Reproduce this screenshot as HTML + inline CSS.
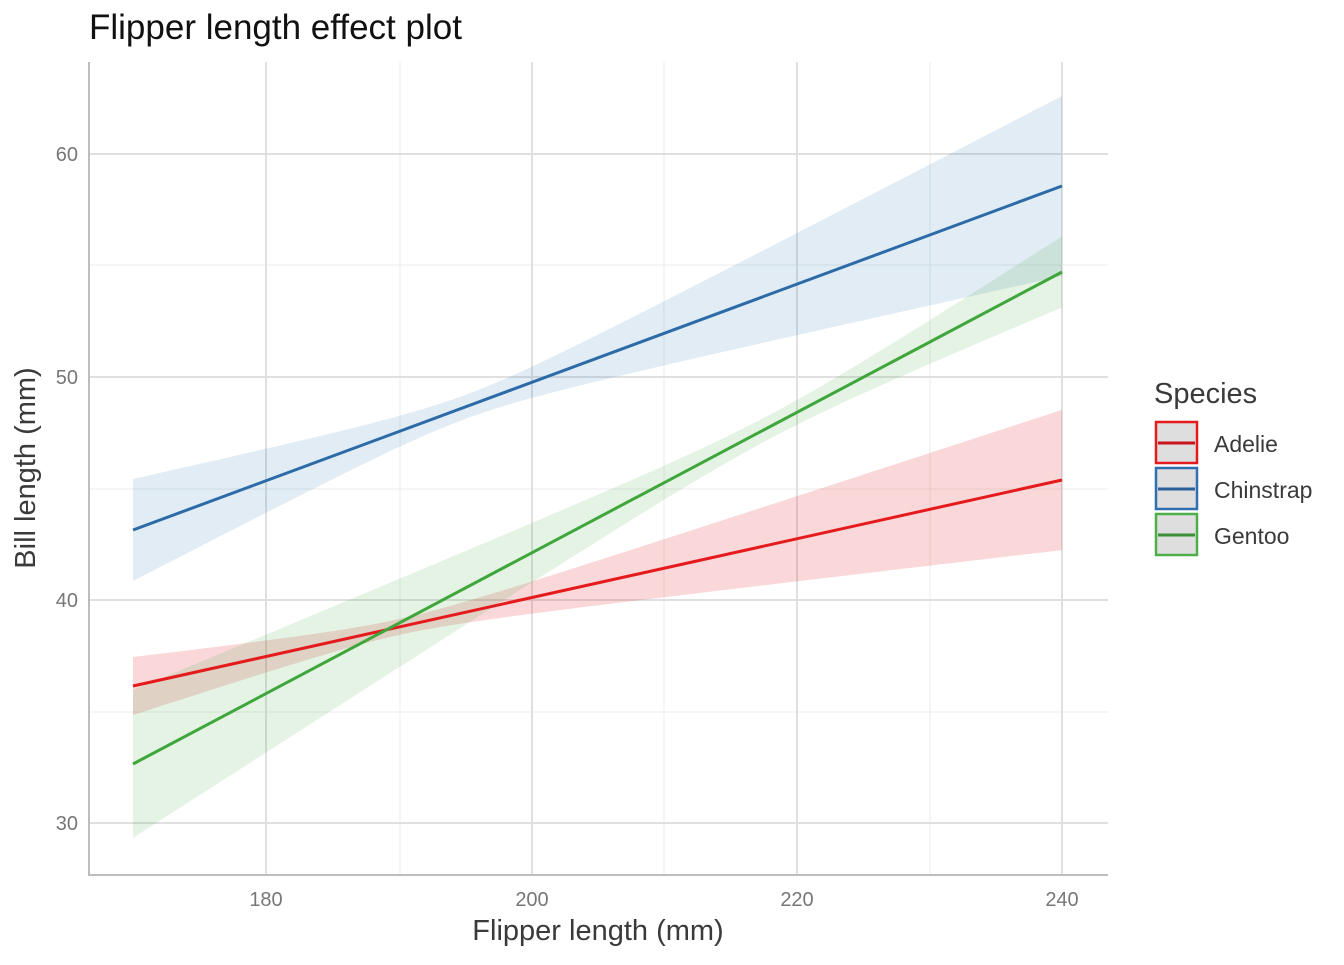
<!DOCTYPE html>
<html><head><style>body{margin:0;background:#fff}svg text{font-family:"Liberation Sans",Arial,sans-serif}</style></head>
<body>
<svg id="s" width="1344" height="960" xmlns="http://www.w3.org/2000/svg">
<rect width="1344" height="960" fill="#fff"/>
<g stroke="#ebebeb" stroke-width="1">
<line x1="400" y1="62" x2="400" y2="875"/><line x1="664" y1="62" x2="664" y2="875"/><line x1="930" y1="62" x2="930" y2="875"/>
<line x1="89" y1="712" x2="1108" y2="712"/><line x1="89" y1="489" x2="1108" y2="489"/><line x1="89" y1="265" x2="1108" y2="265"/>
</g>
<g stroke="#e0e0e0" stroke-width="2">
<line x1="266" y1="62" x2="266" y2="875"/><line x1="532" y1="62" x2="532" y2="875"/><line x1="797" y1="62" x2="797" y2="875"/><line x1="1062" y1="62" x2="1062" y2="875"/>
<line x1="89" y1="823" x2="1108" y2="823"/><line x1="89" y1="600" x2="1108" y2="600"/><line x1="89" y1="377" x2="1108" y2="377"/><line x1="89" y1="154" x2="1108" y2="154"/>
</g>
<g id="bands"></g>
<g id="lines" fill="none" stroke-width="3"></g>
<g stroke="#bdbdbd" stroke-width="2"><line x1="89" y1="62" x2="89" y2="876"/><line x1="88" y1="875" x2="1108" y2="875"/></g>
<g fill="#777" font-size="20" text-anchor="end">
<text x="78" y="830">30</text><text x="78" y="607">40</text><text x="78" y="384">50</text><text x="78" y="161">60</text></g>
<g fill="#777" font-size="20" text-anchor="middle">
<text x="266" y="906">180</text><text x="532" y="906">200</text><text x="797" y="906">220</text><text x="1062" y="906">240</text></g>
<text x="598" y="940" font-size="29" fill="#3a3a3a" text-anchor="middle">Flipper length (mm)</text>
<text transform="translate(35,468) rotate(-90)" font-size="29" fill="#3a3a3a" text-anchor="middle">Bill length (mm)</text>
<text x="89" y="39" font-size="35" fill="#111">Flipper length effect plot</text>
<text x="1154" y="403" font-size="29" fill="#3a3a3a">Species</text>
<g stroke-width="2.5" fill="#dedede">
<rect x="1156" y="422" width="41" height="41" stroke="#e41a1c"/>
<rect x="1156" y="468" width="41" height="41" stroke="#2f6fb0"/>
<rect x="1156" y="514" width="41" height="41" stroke="#4dae4a"/></g>
<g stroke-width="3">
<line x1="1158" y1="443" x2="1195" y2="443" stroke="#c8141c"/>
<line x1="1158" y1="489" x2="1195" y2="489" stroke="#2b5f98"/>
<line x1="1158" y1="535" x2="1195" y2="535" stroke="#3a8f37"/></g>
<g font-size="23" fill="#3a3a3a"><text x="1214" y="452">Adelie</text><text x="1214" y="498">Chinstrap</text><text x="1214" y="544">Gentoo</text></g>
</svg>
<script>
function X(m){return 133+(m-170)*13.271;}
var sp=[
 {c:"#e41a1c",y0:686,y1:480,x0:190,h0:8,k:1.94},
 {c:"#2c6aa8",y0:530,y1:186,x0:195,h0:12,k:3.93},
 {c:"#3fa63c",y0:764,y1:272,x0:218,h0:12,k:2.31}];
var fills=["rgba(228,26,28,0.17)","rgba(55,126,184,0.15)","rgba(77,175,74,0.15)"];
var b=document.getElementById("bands"),l=document.getElementById("lines"),ns="http://www.w3.org/2000/svg";
sp.forEach(function(s,i){
 var up=[],lo=[];
 for(var m=170;m<=240.001;m+=1){var t=(m-170)/70,c=s.y0+(s.y1-s.y0)*t,h=Math.sqrt(s.h0*s.h0+s.k*(m-s.x0)*(m-s.x0));
  up.push(X(m).toFixed(1)+","+(c-h).toFixed(1));lo.unshift(X(m).toFixed(1)+","+(c+h).toFixed(1));}
 var p=document.createElementNS(ns,"polygon");p.setAttribute("points",up.concat(lo).join(" "));p.setAttribute("fill",fills[i]);b.appendChild(p);
 var q=document.createElementNS(ns,"line");q.setAttribute("x1",133);q.setAttribute("y1",s.y0);q.setAttribute("x2",1062);q.setAttribute("y2",s.y1);q.setAttribute("stroke",s.c);l.appendChild(q);
});
</script>
</body></html>
